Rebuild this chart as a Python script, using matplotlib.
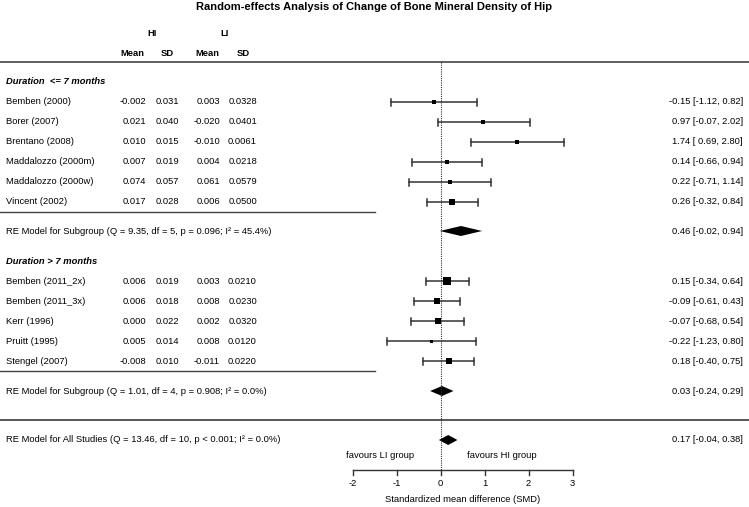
import numpy as np
import matplotlib
matplotlib.use("Agg")
from matplotlib import pyplot as plt
from matplotlib.patches import Polygon

plt.rcParams['font.family'] = ['Liberation Sans', 'DejaVu Sans']

# ---- data ----
g1_names = ['Bemben (2000)', 'Borer (2007)', 'Brentano (2008)',
            'Maddalozzo (2000m)', 'Maddalozzo (2000w)', 'Vincent (2002)']
g1_hi_mean = ['-0.002', '0.021', '0.010', '0.007', '0.074', '0.017']
g1_hi_sd = ['0.031', '0.040', '0.015', '0.019', '0.057', '0.028']
g1_li_mean = ['0.003', '-0.020', '-0.010', '0.004', '0.061', '0.006']
g1_li_sd = ['0.0328', '0.0401', '0.0061', '0.0218', '0.0579', '0.0500']
g1_smd = [-0.15, 0.97, 1.74, 0.14, 0.22, 0.26]
g1_lo = [-1.12, -0.07, 0.69, -0.66, -0.71, -0.32]
g1_hi = [0.82, 2.02, 2.80, 0.94, 1.14, 0.84]
g1_weight = [7.0, 7.0, 6.2, 9.0, 7.0, 13.0]

g2_names = ['Bemben (2011_2x)', 'Bemben (2011_3x)', 'Kerr (1996)',
            'Pruitt (1995)', 'Stengel (2007)']
g2_hi_mean = ['0.006', '0.006', '0.000', '0.005', '-0.008']
g2_hi_sd = ['0.019', '0.018', '0.022', '0.014', '0.010']
g2_li_mean = ['0.003', '0.008', '0.002', '0.008', '-0.011']
g2_li_sd = ['0.0210', '0.0230', '0.0320', '0.0120', '0.0220']
g2_smd = [0.15, -0.09, -0.07, -0.22, 0.18]
g2_lo = [-0.34, -0.61, -0.68, -1.23, -0.40]
g2_hi = [0.64, 0.43, 0.54, 0.80, 0.75]
g2_weight = [15.0, 13.0, 13.0, 5.5, 11.0]

sub_labels = ['RE Model for Subgroup (Q = 9.35, df = 5, p = 0.096; I\u00b2 = 45.4%)',
              'RE Model for Subgroup (Q = 1.01, df = 4, p = 0.908; I\u00b2 = 0.0%)']
sub_est = [0.46, 0.03]
sub_lo = [-0.02, -0.24]
sub_hi = [0.94, 0.29]
all_label = 'RE Model for All Studies (Q = 13.46, df = 10, p < 0.001; I\u00b2 = 0.0%)'
all_est, all_lo, all_hi = 0.17, -0.04, 0.38
group_titles = ['Duration  <= 7 months', 'Duration > 7 months']
xticks = [-2, -1, 0, 1, 2, 3]

# ---- layout (pixel based) ----
W, H = 749, 507
X0PX, PXU = 440.7, 44.0          # pixel of SMD=0, pixels per unit
def px2x(p):
    return (p - X0PX) / PXU

fig = plt.figure(figsize=(W / 100, H / 100), dpi=100)
ax = fig.add_axes([0, 0, 1, 1])
ax.set_xlim(px2x(0), px2x(W))
ax.set_ylim(H, 0)
ax.axis('off')

FS = 6.75
col_name = px2x(6)
col_hm, col_hs, col_lm, col_ls = px2x(146), px2x(179), px2x(220), px2x(257)
col_ci = px2x(743)
ecol = '#333333'

# title and header
ax.text(px2x(374.5), 7, 'Random-effects Analysis of Change of Bone Mineral Density of Hip',
        ha='center', va='center', fontsize=8.0, fontweight='bold')
ax.text(px2x(152), 34, 'HI', ha='center', va='center', fontsize=FS, fontweight='bold')
ax.text(px2x(225), 34, 'LI', ha='center', va='center', fontsize=FS, fontweight='bold')
for cx, lab in [(132, 'Mean'), (167, 'SD'), (207, 'Mean'), (243, 'SD')]:
    ax.text(px2x(cx), 53, lab, ha='center', va='center', fontsize=FS, fontweight='bold')
ax.plot([px2x(0), px2x(W)], [61.5, 61.5], color='#444444', lw=1.2)

def fmt_ci(e, lo, hi):
    return '%.2f [%5.2f, %.2f]' % (e, lo, hi)

def diamond(y, e, lo, hi):
    ax.add_patch(Polygon([[lo, y], [e, y - 5], [hi, y], [e, y + 5]],
                         closed=True, color='black', lw=0))
    ax.text(col_ci, y, fmt_ci(e, lo, hi), ha='right', va='center', fontsize=FS)

def study_rows(ys, names, hm, hs, lm, ls, smd, lo, hi, wt):
    for i, y in enumerate(ys):
        ax.text(col_name, y, names[i], ha='left', va='center', fontsize=FS)
        ax.text(col_hm, y, hm[i], ha='right', va='center', fontsize=FS)
        ax.text(col_hs, y, hs[i], ha='right', va='center', fontsize=FS)
        ax.text(col_lm, y, lm[i], ha='right', va='center', fontsize=FS)
        ax.text(col_ls, y, ls[i], ha='right', va='center', fontsize=FS)
        ax.plot([lo[i], hi[i]], [y, y], color=ecol, lw=1.1)
        for xe in (lo[i], hi[i]):
            ax.plot([xe, xe], [y - 3.5, y + 3.5], color=ecol, lw=1.1)
        px = 3 + (wt[i] - 5.5) * 4.5 / 9.5
        ax.plot(smd[i], y, 's', color='black', ms=px * 0.72, mew=0)
        ax.text(col_ci, y, fmt_ci(smd[i], lo[i], hi[i]), ha='right', va='center', fontsize=FS)

# group 1
ax.text(col_name, 82, group_titles[0], ha='left', va='center', fontsize=FS,
        fontweight='bold', fontstyle='italic')
ys1 = [102 + 20 * i for i in range(len(g1_names))]
study_rows(ys1, g1_names, g1_hi_mean, g1_hi_sd, g1_li_mean, g1_li_sd,
           g1_smd, g1_lo, g1_hi, g1_weight)
ax.plot([px2x(0), px2x(375)], [212, 212], color='#444444', lw=1.0)
ax.text(col_name, 231, sub_labels[0], ha='left', va='center', fontsize=FS)
diamond(231, sub_est[0], sub_lo[0], sub_hi[0])

# group 2
ax.text(col_name, 262, group_titles[1], ha='left', va='center', fontsize=FS,
        fontweight='bold', fontstyle='italic')
ys2 = [281 + 20 * i for i in range(len(g2_names))]
study_rows(ys2, g2_names, g2_hi_mean, g2_hi_sd, g2_li_mean, g2_li_sd,
           g2_smd, g2_lo, g2_hi, g2_weight)
ax.plot([px2x(0), px2x(375)], [371, 371], color='#444444', lw=1.0)
ax.text(col_name, 391, sub_labels[1], ha='left', va='center', fontsize=FS)
diamond(391, sub_est[1], sub_lo[1], sub_hi[1])

# overall
ax.plot([px2x(0), px2x(W)], [420, 420], color='#555555', lw=1.4)
ax.text(col_name, 440, all_label, ha='left', va='center', fontsize=FS)
diamond(440, all_est, all_lo, all_hi)

# reference line at 0
ax.plot([0, 0], [62, 470], color='#333333', lw=0.8, ls=(0, (1, 1)))

# x axis
ax.plot([xticks[0], xticks[-1]], [470, 470], color='#333333', lw=1.0)
for t in xticks:
    ax.plot([t, t], [470, 475], color='#333333', lw=1.0)
    ax.text(t, 484, str(t), ha='center', va='center', fontsize=FS)
ax.text(0.5, 500, 'Standardized mean difference (SMD)', ha='center',
        va='center', fontsize=FS)
ax.text(-1.38, 455, 'favours LI group', ha='center', va='center', fontsize=FS)
ax.text(1.39, 455, 'favours HI group', ha='center', va='center', fontsize=FS)

fig.savefig('out.png', dpi=100)
